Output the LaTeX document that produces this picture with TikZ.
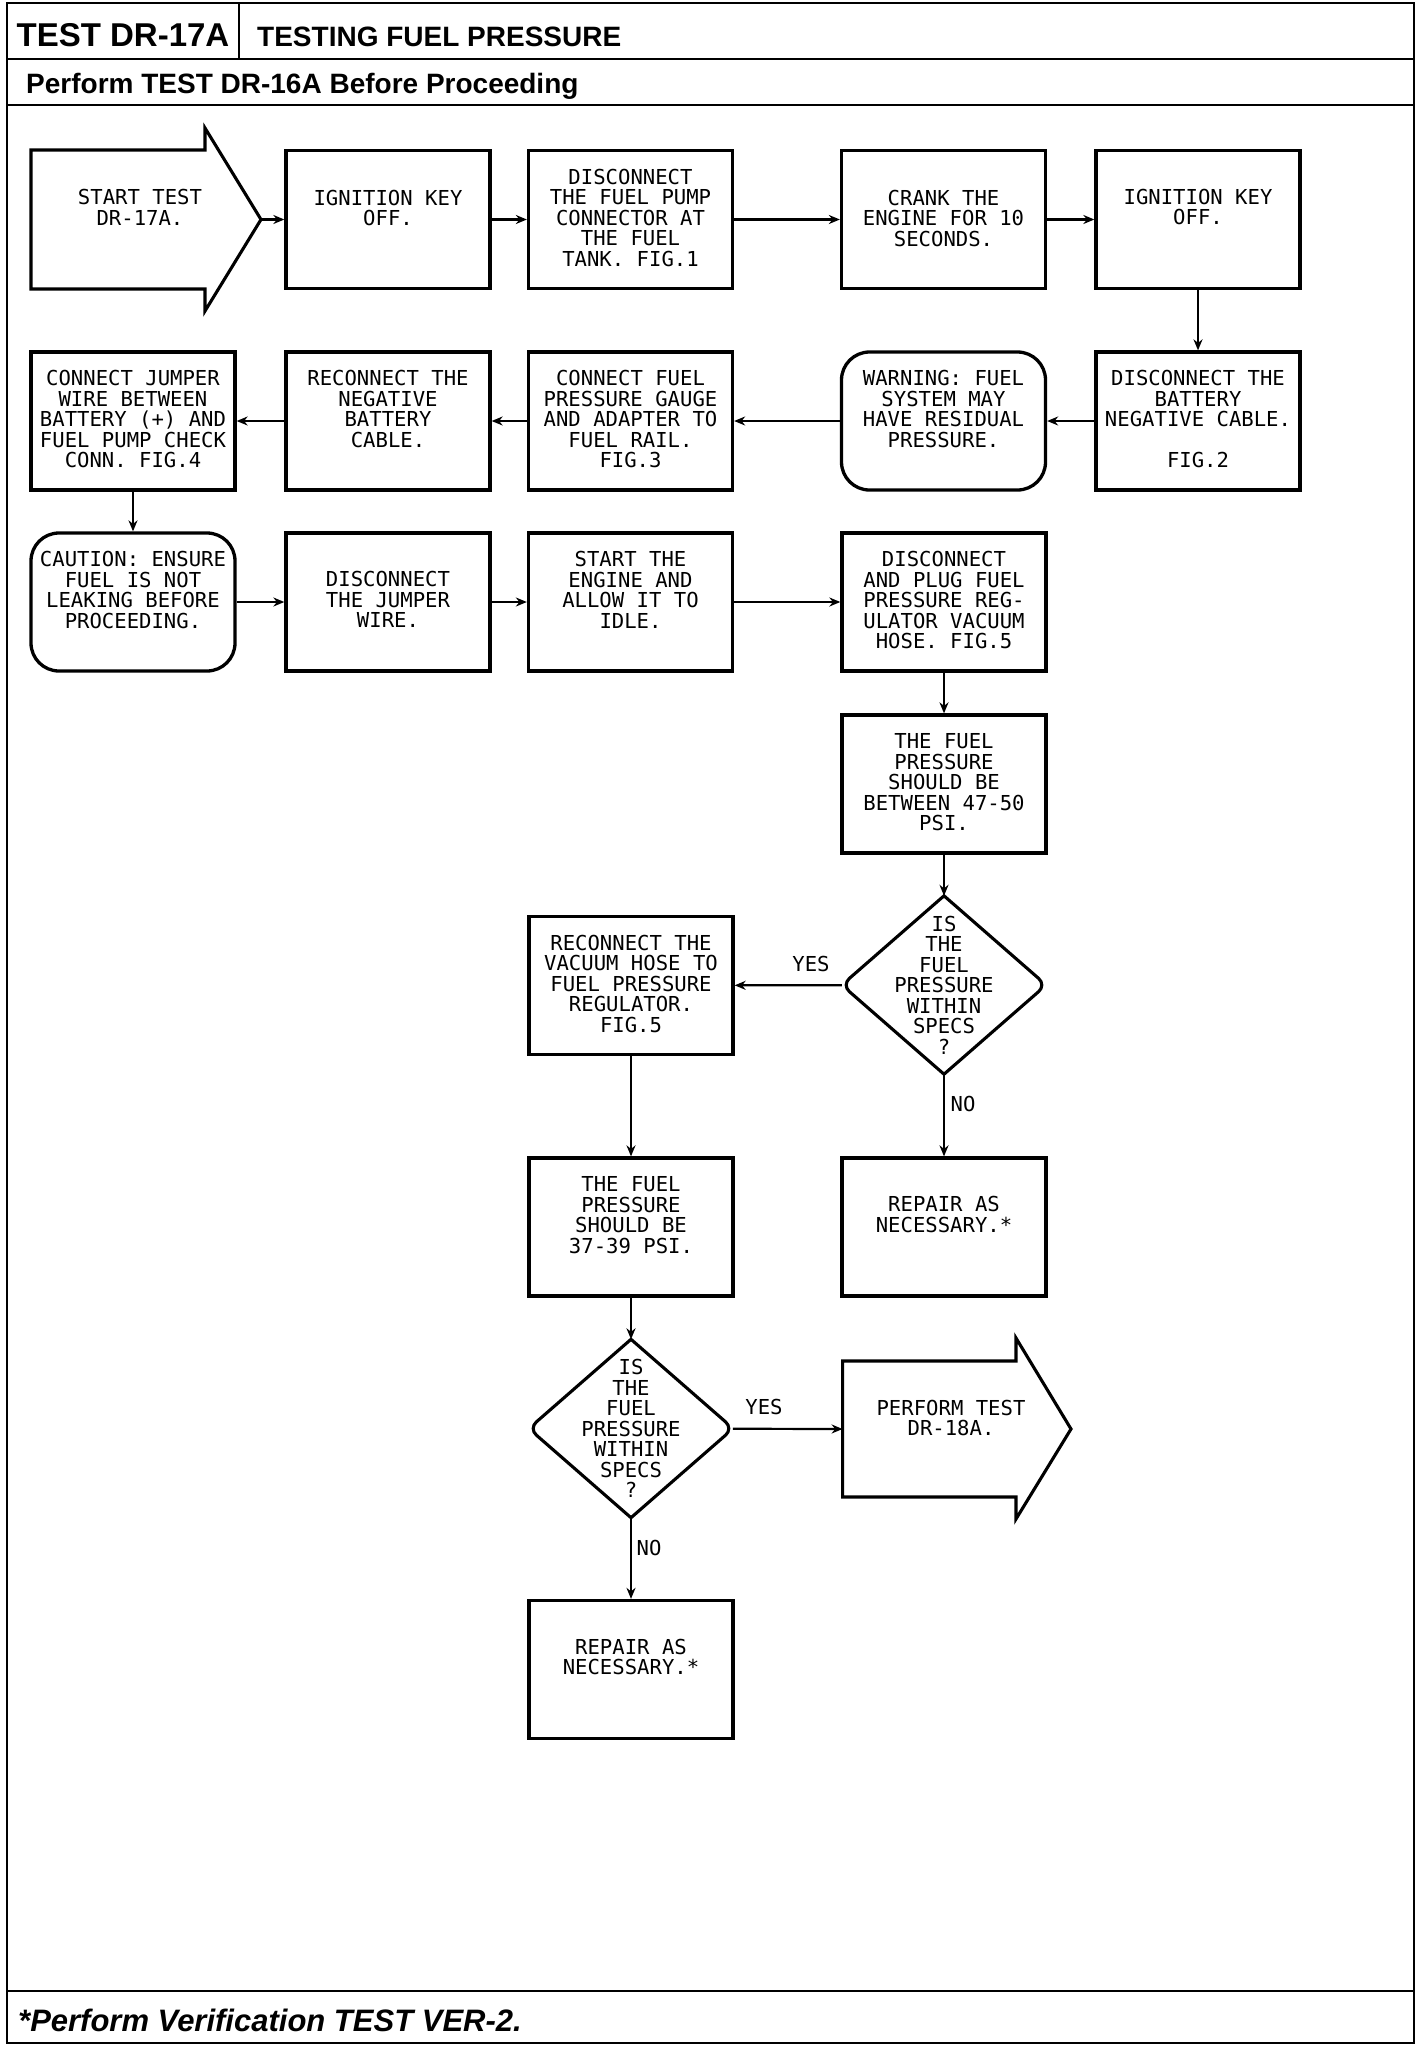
\documentclass[tikz,border=0pt]{standalone}
\usepackage{fontspec}
\setmainfont{Liberation Sans}
\newfontfamily\plotfont{DejaVu Sans Mono}
\usetikzlibrary{arrows.meta,calc,shapes.geometric}
\begin{document}
\begin{tikzpicture}[x=1pt,y=-1pt,
  frame/.style={line width=2.6pt},
  box/.style={rectangle,draw,line width=3.3pt,minimum width=204,minimum height=138,inner sep=0},
  rbox/.style={box,rounded corners=28pt},
  dia/.style={diamond,draw=none,minimum width=204,minimum height=178,inner sep=0},
  txt/.style={font=\plotfont\fontsize{20.6}{20.5}\selectfont,align=center,inner sep=0,anchor=north},
  lbl/.style={font=\plotfont\fontsize{20.6}{20.5}\selectfont,inner sep=0},
  conn/.style={line width=2.2pt,-{Stealth[length=11pt,width=9pt]}},
  arrowshape/.style={line width=3.1pt,line join=miter},
  outline/.style={line width=3.1pt},
]
\useasboundingbox (0,0) rectangle (1424,2048);
% frame
\draw[frame] (7,3) rectangle (1414,2043);
\draw[frame] (7,59) -- (1414,59);
\draw[frame] (239,3) -- (239,59);
\draw[frame] (7,105) -- (1414,105);
\draw[frame] (7,1991) -- (1414,1991);
\node[anchor=base,inner sep=0,font=\bfseries\fontsize{33}{33}\selectfont] (ttl) at (123,46) {TEST DR-17A};
\node[anchor=base west,inner sep=0,font=\bfseries\fontsize{28}{28}\selectfont] (ttl2) at (257,46) {TESTING FUEL PRESSURE};
\node[anchor=base west,inner sep=0,font=\bfseries\fontsize{28}{28}\selectfont] (pre) at (26,93) {Perform TEST DR-16A Before Proceeding};
\node[anchor=base west,inner sep=0,font=\bfseries\itshape\fontsize{31}{31}\selectfont] (foot) at (18,2031) {*Perform Verification TEST VER-2.};

% start arrow
\draw[arrowshape] (31,150) -- (205,150) -- (205,128) -- (261,219.5) -- (205,311) -- (205,289) -- (31,289) -- cycle;
\coordinate (starttip) at (261,219.5);
\node[txt] (tstart) at (140,189.5) {START TEST\\DR-17A.};

% row 1
\node[box] (ign1) at (388,219.5) {};
\node[box] (pump) at (630.5,219.5) {};
\node[box] (crank) at (943.5,219.5) {};
\node[box] (ign2) at (1198,219.5) {};
\node[txt] (tign1) at ($(ign1.north)+(0,41)$) {IGNITION KEY\\OFF.};
\node[txt] (tpump) at ($(pump.north)+(0,20)$) {DISCONNECT\\THE FUEL PUMP\\CONNECTOR AT\\THE FUEL\\TANK. FIG.1};
\node[txt] (tcrank) at ($(crank.north)+(0,41)$) {CRANK THE\\ENGINE FOR 10\\SECONDS.};
\node[txt] (tign2) at ($(ign2.north)+(0,40)$) {IGNITION KEY\\OFF.};

% row 2
\node[box] (jumper) at (133,421) {};
\node[box] (neg) at (388,421) {};
\node[box] (gauge) at (630.5,421) {};
\node[rbox] (warn) at (943.5,421) {};
\node[box] (batt) at (1198,421) {};
\node[txt] (tjumper) at ($(jumper.north)+(0,20)$) {CONNECT JUMPER\\WIRE BETWEEN\\BATTERY (+) AND\\FUEL PUMP CHECK\\CONN. FIG.4};
\node[txt] (tneg) at ($(neg.north)+(0,20)$) {RECONNECT THE\\NEGATIVE\\BATTERY\\CABLE.};
\node[txt] (tgauge) at ($(gauge.north)+(0,20)$) {CONNECT FUEL\\PRESSURE GAUGE\\AND ADAPTER TO\\FUEL RAIL.\\FIG.3};
\node[txt] (twarn) at ($(warn.north)+(0,20)$) {WARNING: FUEL\\SYSTEM MAY\\HAVE RESIDUAL\\PRESSURE.};
\node[txt] (tbatt) at ($(batt.north)+(0,20)$) {DISCONNECT THE\\BATTERY\\NEGATIVE CABLE.\\[20.5pt]FIG.2};

% row 3
\node[rbox] (caution) at (133,602) {};
\node[box] (djump) at (388,602) {};
\node[box] (starteng) at (630.5,602) {};
\node[box] (plug) at (944,602) {};
\node[txt] (tcaution) at ($(caution.north)+(0,20)$) {CAUTION: ENSURE\\FUEL IS NOT\\LEAKING BEFORE\\PROCEEDING.};
\node[txt] (tdjump) at ($(djump.north)+(0,40)$) {DISCONNECT\\THE JUMPER\\WIRE.};
\node[txt] (tstarteng) at ($(starteng.north)+(0,20)$) {START THE\\ENGINE AND\\ALLOW IT TO\\IDLE.};
\node[txt] (tplug) at ($(plug.north)+(0,20)$) {DISCONNECT\\AND PLUG FUEL\\PRESSURE REG-\\ULATOR VACUUM\\HOSE. FIG.5};

% vertical part
\node[box] (p4750) at (944,784) {};
\node[txt] (tp4750) at ($(p4750.north)+(0,20)$) {THE FUEL\\PRESSURE\\SHOULD BE\\BETWEEN 47-50\\PSI.};

\node[dia] (d1) at (944,985) {};
\draw[outline] (d1.north) [rounded corners=10pt] -- (d1.west) [sharp corners] -- (d1.south) [rounded corners=10pt] -- (d1.east) [sharp corners] -- cycle;
\node[txt,anchor=center] (td1) at (d1.center) {IS\\THE\\FUEL\\PRESSURE\\WITHIN\\SPECS\\?};

\node[box] (vac) at (631,985.5) {};
\node[txt] (tvac) at ($(vac.north)+(0,20)$) {RECONNECT THE\\VACUUM HOSE TO\\FUEL PRESSURE\\REGULATOR.\\FIG.5};

\node[box] (rep1) at (944,1227) {};
\node[txt] (trep1) at ($(rep1.north)+(0,40)$) {REPAIR AS\\NECESSARY.*};

\node[box] (p3739) at (631,1227) {};
\node[txt] (tp3739) at ($(p3739.north)+(0,20)$) {THE FUEL\\PRESSURE\\SHOULD BE\\37-39 PSI.};

\node[dia] (d2) at (631,1428.5) {};
\draw[outline] (d2.north) [rounded corners=10pt] -- (d2.west) [sharp corners] -- (d2.south) [rounded corners=10pt] -- (d2.east) [sharp corners] -- cycle;
\node[txt,anchor=center] (td2) at (d2.center) {IS\\THE\\FUEL\\PRESSURE\\WITHIN\\SPECS\\?};

% perform test arrow
\draw[arrowshape] (842.6,1361) -- (1016,1361) -- (1016,1338) -- (1071,1429) -- (1016,1519) -- (1016,1497) -- (842.6,1497) -- cycle;
\coordinate (perfin) at (842.6,1429);
\node[txt] (tperf) at (951,1399.5) {PERFORM TEST\\DR-18A.};

\node[box] (rep2) at (631,1669.5) {};
\node[txt] (trep2) at ($(rep2.north)+(0,40)$) {REPAIR AS\\NECESSARY.*};

% labels
\node[lbl] (yes1) at (811,964) {YES};
\node[lbl] (no1) at (963,1104) {NO};
\node[lbl] (yes2) at (764,1407) {YES};
\node[lbl] (no2) at (649,1548) {NO};

% connectors
\draw[conn] (starttip) -- (ign1);
\draw[conn] (ign1) -- (pump);
\draw[conn] (pump) -- (crank);
\draw[conn] (crank) -- (ign2);
\draw[conn] (ign2) -- (batt);
\draw[conn] (batt) -- (warn);
\draw[conn] (warn) -- (gauge);
\draw[conn] (gauge) -- (neg);
\draw[conn] (neg) -- (jumper);
\draw[conn] (jumper) -- (caution);
\draw[conn] (caution) -- (djump);
\draw[conn] (djump) -- (starteng);
\draw[conn] (starteng) -- (plug);
\draw[conn] (plug) -- (p4750);
\draw[conn] (p4750) -- (d1);
\draw[conn] (d1) -- (vac);
\draw[conn] (d1) -- (rep1);
\draw[conn] (vac) -- (p3739);
\draw[conn] (p3739) -- (d2);
\draw[conn] (d2) -- (perfin);
\draw[conn] (d2) -- (rep2);
\end{tikzpicture}
\end{document}
